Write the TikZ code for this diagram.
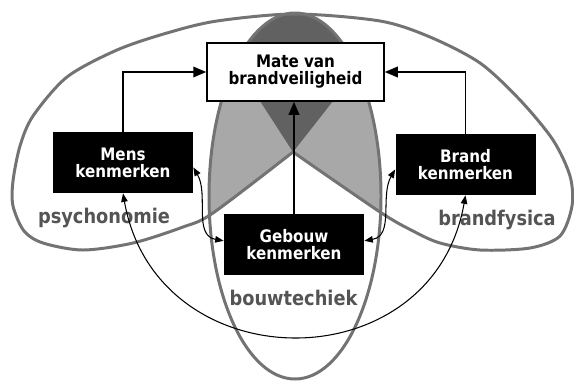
\documentclass[tikz,border=0pt]{standalone}
\usepackage{fontspec}
\setmainfont{DejaVu Sans}[FakeStretch=0.88]
\usetikzlibrary{arrows.meta}
\definecolor{lobeline}{gray}{0.45}
\definecolor{lobelight}{gray}{0.66}
\definecolor{lobedark}{gray}{0.38}
\definecolor{fieldgray}{gray}{0.33}

\begin{document}
\begin{tikzpicture}[x=0.2mm,y=0.2mm,
  lobe/.style={line width=1.7pt,lobeline},
  boxtext/.style={font=\bfseries\fontsize{9.8}{9.6}\selectfont,align=center,inner sep=0pt},
  blackbox/.style={boxtext,fill=black,text=white,minimum width=28mm,minimum height=12.2mm},
  whitebox/.style={boxtext,draw=black,line width=0.85pt,fill=white,minimum width=35.4mm,minimum height=11.6mm},
  field/.style={fieldgray,font=\bfseries\fontsize{11.5}{13}\selectfont,anchor=base},
  flow/.style={line width=1.1pt,-{Triangle[length=2.6mm,width=2.1mm]}},
  link/.style={line width=0.6pt,{Triangle[length=1.7mm,width=1.3mm]}-{Triangle[length=1.7mm,width=1.3mm]}}]
\useasboundingbox (0,0) rectangle (574,381);

\begin{scope}
\clip (295,185) ellipse [x radius=86,y radius=183];
\clip plot[smooth] coordinates {(293,229) (213,168) (183,154) (133,138) (83,131) (43,138) (24,150) (13,175)} -- (0,175) -- (0,400) -- (390,400) -- (390,350) -- (333,280) -- cycle;
\fill[lobelight] (200,0) rectangle (400,381);
\end{scope}
\begin{scope}
\clip (295,185) ellipse [x radius=86,y radius=183];
\clip plot[smooth] coordinates {(293,229) (380,169) (413,150) (440,138) (480,131) (530,133) (560,145) (572,175)} -- (590,175) -- (590,400) -- (200,400) -- (200,350) -- (260,280) -- cycle;
\fill[lobelight] (200,0) rectangle (400,381);
\end{scope}
\begin{scope}
\clip (295,185) ellipse [x radius=86,y radius=183];
\clip plot[smooth] coordinates {(293,229) (213,168) (183,154) (133,138) (83,131) (43,138) (24,150) (13,175)} -- (0,175) -- (0,400) -- (390,400) -- (390,350) -- (333,280) -- cycle;
\clip plot[smooth] coordinates {(293,229) (380,169) (413,150) (440,138) (480,131) (530,133) (560,145) (572,175)} -- (590,175) -- (590,400) -- (200,400) -- (200,350) -- (260,280) -- cycle;
\fill[lobedark] (200,0) rectangle (400,381);
\end{scope}

\draw[lobe] (295,185) ellipse [x radius=86,y radius=183];
\draw[lobe] plot[smooth] coordinates {(293,229) (213,168) (183,154) (133,138) (83,131) (43,138) (24,150) (13,175) (13,200) (20,235) (33,265) (67,304) (117,331) (167,348) (217,360) (295,367) (380,360) (430,344) (480,318) (520,281) (553,241) (570,205) (572,175) (560,145) (530,133) (480,131) (440,138) (413,150) (380,169) (293,229)};

\node[field] (psy) at (104,158) {psychonomie};
\node[field] (bouw) at (293.5,76) {bouwtechiek};
\node[field] (fys) at (497,156) {brandfysica};

\node[whitebox] (mate) at (295.5,309) {Mate van\\brandveiligheid};
\node[blackbox] (mens) at (123,218.5) {Mens\\kenmerken};
\node[blackbox] (brand) at (465.5,216.5) {Brand\\kenmerken};
\node[blackbox] (gebouw) at (294,136.5) {Gebouw\\kenmerken};

\draw[flow] (mens.north) |- (mate.west);
\draw[flow] (brand.north) |- (mate.east);
\draw[flow] (gebouw.north) -- (gebouw.north |- mate.south);

\draw[link] (mens.-4) to[out=-60,in=170] (gebouw.177);
\draw[link] (brand.184) to[out=-120,in=10] (gebouw.3);
\draw[link] (mens.south) to[out=-80,in=-100,looseness=1.43] (brand.south);
\end{tikzpicture}
\end{document}
